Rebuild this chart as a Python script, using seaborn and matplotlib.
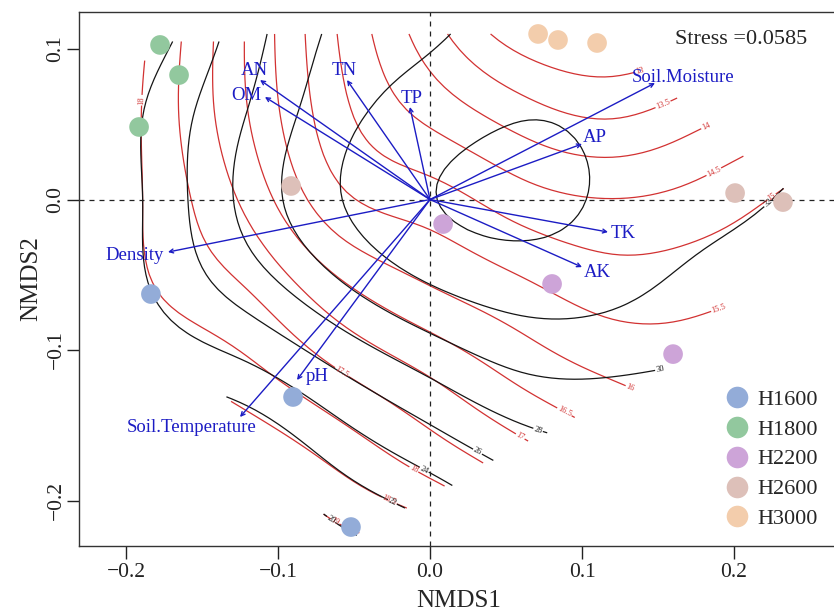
import numpy as np
import pandas as pd
import matplotlib
matplotlib.use("Agg")
import matplotlib.pyplot as plt
from matplotlib.path import Path
import seaborn as sns

# NMDS site scores
groups = ['H1600'] * 3 + ['H1800'] * 3 + ['H2200'] * 3 + ['H2600'] * 3 + ['H3000'] * 3
nmds1 = [-0.1836, -0.0901, -0.0520,
         -0.1914, -0.1776, -0.1651,
         0.0086, 0.0803, 0.1599,
         -0.0914, 0.2007, 0.2322,
         0.0711, 0.0842, 0.1099]
nmds2 = [-0.0628, -0.1312, -0.2176,
         0.0482, 0.1027, 0.0827,
         -0.0163, -0.0561, -0.1027,
         0.0090, 0.0043, -0.0017,
         0.1100, 0.1060, 0.1040]
group_colors = {'H1600': '#93acd8', 'H1800': '#92c89e', 'H2200': '#cda4d8',
                'H2600': '#ddc0b9', 'H3000': '#f3cdac'}

# envfit vectors
env_names = ['Soil.Moisture', 'AP', 'TK', 'AK', 'TP', 'TN', 'AN', 'OM',
             'Density', 'pH', 'Soil.Temperature']
env_x = [0.148, 0.100, 0.1171, 0.100, -0.0132, -0.0546, -0.1118, -0.1086,
         -0.1724, -0.0875, -0.125]
env_y = [0.0774, 0.0369, -0.0216, -0.0449, 0.0615, 0.0794, 0.0794, 0.0681,
         -0.0349, -0.1199, -0.1445]
label_x = [0.1664, 0.1086, 0.127, 0.1099, -0.0118, -0.0566, -0.1158, -0.121,
           -0.194, -0.0743, -0.1566]
label_y = [0.0814, 0.0409, -0.0223, -0.0488, 0.0674, 0.0854, 0.0854, 0.0694,
           -0.0369, -0.1173, -0.1512]

# ordisurf surfaces read on a coarse grid (rows: grid_y, cols: grid_x)
grid_x = [-0.24, -0.18, -0.12, -0.06, 0.00, 0.06, 0.12, 0.18, 0.24, 0.30]
grid_y = [-0.24, -0.18, -0.12, -0.06, 0.00, 0.06, 0.12]
temp_grid = [
    [21.0, 20.4, 19.9, 19.35, 19.1, 18.2, 17.5, 16.8, 17.0, 17.3],
    [20.3, 19.6, 19.1, 18.49, 17.91, 17.34, 16.75, 16.3, 16.6, 16.9],
    [19.5, 18.75, 18.2, 17.6, 17.03, 16.43, 16.0, 15.87, 16.2, 16.5],
    [19.1, 18.0, 17.5, 16.64, 16.04, 15.62, 15.27, 15.35, 15.6, 16.0],
    [18.95, 17.85, 16.87, 15.63, 15.23, 14.73, 14.51, 14.7, 15.14, 15.6],
    [19.0, 17.8, 16.5, 15.14, 14.32, 13.68, 13.38, 13.79, 14.28, 14.9],
    [19.05, 17.9, 16.45, 14.95, 13.62, 12.55, 12.4, 12.6, 13.3, 13.9],
]
moist_grid = [
    [13.0, 15.0, 16.5, 18.7, 20.3, 23.0, 24.5, 24.5, 25.0, 25.0],
    [15.5, 17.0, 19.2, 22.0, 24.1, 26.2, 27.3, 27.2, 27.5, 27.5],
    [18.0, 21.4, 23.2, 25.6, 27.9, 29.7, 29.9, 29.6, 29.5, 29.0],
    [20.5, 24.2, 26.8, 29.6, 31.8, 32.8, 32.5, 31.3, 30.8, 30.3],
    [20.7, 24.6, 28.6, 31.9, 33.9, 34.5, 33.7, 32.7, 31.8, 31.2],
    [20.6, 24.5, 28.0, 31.3, 32.9, 33.85, 33.6, 33.1, 32.4, 31.9],
    [19.5, 22.8, 27.0, 30.3, 31.5, 32.8, 33.2, 33.0, 32.6, 32.3],
]
temp_levels = np.arange(12, 19.5, 0.5)
moist_levels = np.arange(20, 36, 2)

# where the contour labels sit
temp_label_pos = [(0.138, 0.086), (0.153, 0.064), (0.182, 0.048), (0.186, 0.02),
                  (0.222, 0.006), (0.199, -0.067), (0.132, -0.127), (0.0875, -0.143),
                  (0.058, -0.16), (-0.057, -0.113), (-0.011, -0.18), (-0.028, -0.203),
                  (-0.0625, -0.214), (-0.19, 0.066)]
moist_label_pos = [(0.222, -0.002), (0.151, -0.111), (0.072, -0.15), (0.03, -0.17),
                   (-0.005, -0.182), (-0.026, -0.204), (-0.066, -0.214)]

df = pd.DataFrame({'NMDS1': nmds1, 'NMDS2': nmds2, 'group': groups})


def convex_hull(pts):
    pts = sorted(map(tuple, pts))

    def cross(o, a, b):
        return (a[0] - o[0]) * (b[1] - o[1]) - (a[1] - o[1]) * (b[0] - o[0])
    lower, upper = [], []
    for p in pts:
        while len(lower) >= 2 and cross(lower[-2], lower[-1], p) <= 0:
            lower.pop()
        lower.append(p)
    for p in reversed(pts):
        while len(upper) >= 2 and cross(upper[-2], upper[-1], p) <= 0:
            upper.pop()
        upper.append(p)
    return np.array(lower[:-1] + upper[:-1])


def spline_weights(nodes, xs):
    # natural cubic spline as a linear map from node values to values at xs
    nodes = np.asarray(nodes)
    n = len(nodes)
    h = np.diff(nodes)
    A = np.zeros((n, n))
    B = np.zeros((n, n))
    A[0, 0] = A[-1, -1] = 1
    for i in range(1, n - 1):
        A[i, i - 1], A[i, i], A[i, i + 1] = h[i - 1], 2 * (h[i - 1] + h[i]), h[i]
        B[i, i - 1], B[i, i], B[i, i + 1] = 6 / h[i - 1], -6 / h[i - 1] - 6 / h[i], 6 / h[i]
    M = np.linalg.solve(A, B)
    W = np.zeros((len(xs), n))
    for k, x in enumerate(xs):
        i = int(np.clip(np.searchsorted(nodes, x) - 1, 0, n - 2))
        hi = nodes[i + 1] - nodes[i]
        a = (nodes[i + 1] - x) / hi
        b = (x - nodes[i]) / hi
        W[k, i] += a
        W[k, i + 1] += b
        W[k] += ((a ** 3 - a) * M[i] + (b ** 3 - b) * M[i + 1]) * hi ** 2 / 6
    return W


sns.set_theme(style="white")
plt.rcParams['font.family'] = ['Liberation Serif', 'DejaVu Serif']
plt.rcParams['axes.unicode_minus'] = True

fig = plt.figure(figsize=(8.34, 6.15), dpi=100)
ax = fig.add_axes([0.0953, 0.1122, 0.9095, 0.8683])

# fitted surface only inside (slightly grown) convex hull of sites
pts = np.column_stack([nmds1, nmds2])
hull = convex_hull(pts)
centre = pts.mean(axis=0)
hull = centre + (hull - centre) * 1.05
xs = np.linspace(-0.22, 0.26, 97)
ys = np.linspace(-0.235, 0.125, 73)
fx, fy = np.meshgrid(xs, ys)
inside = Path(hull).contains_points(np.column_stack([fx.ravel(), fy.ravel()])).reshape(fx.shape)
Wx = spline_weights(grid_x, xs)
Wy = spline_weights(grid_y, ys)
temp_fit = np.ma.masked_where(~inside, Wy @ np.array(temp_grid) @ Wx.T)
moist_fit = np.ma.masked_where(~inside, Wy @ np.array(moist_grid) @ Wx.T)

cs_t = ax.contour(fx, fy, temp_fit, levels=temp_levels, colors='#d23232', linewidths=0.9)
ax.clabel(cs_t, fmt='%g', fontsize=6, inline=True, inline_spacing=1, manual=temp_label_pos)
cs_m = ax.contour(fx, fy, moist_fit, levels=moist_levels, colors='#151515', linewidths=0.9)
ax.clabel(cs_m, fmt='%g', fontsize=6, inline=True, inline_spacing=1, manual=moist_label_pos)

ax.axhline(0, color='#222222', lw=0.9, ls=(0, (4, 4)), zorder=2)
ax.axvline(0, color='#222222', lw=0.9, ls=(0, (4, 4)), zorder=2)

arrow_col = '#1c1cc4'
for name, vx, vy, tx, ty in zip(env_names, env_x, env_y, label_x, label_y):
    ax.annotate('', xy=(vx, vy), xytext=(0, 0),
                arrowprops=dict(arrowstyle='->', color=arrow_col, lw=1.0,
                                shrinkA=0, shrinkB=0, mutation_scale=7), zorder=3)
    ax.text(tx, ty, name, color=arrow_col, fontsize=13.5, ha='center', va='center', zorder=4)

sns.scatterplot(data=df, x='NMDS1', y='NMDS2', hue='group', palette=group_colors,
                s=200, edgecolor='none', linewidth=0, ax=ax, zorder=5)
sns.move_legend(ax, 'upper left', bbox_to_anchor=(0.8375, 0.3146), frameon=False,
                title=None, fontsize=16, labelspacing=0.42, handletextpad=0.4,
                handlelength=1.0, borderpad=0, markerscale=1.1)

ax.text(0.2046, 0.106, 'Stress =0.0585', fontsize=16, ha='center', va='center')

ax.set_xlim(-0.2306, 0.2684)
ax.set_ylim(-0.2302, 0.1246)
ax.set_xticks([-0.2, -0.1, 0.0, 0.1, 0.2])
ax.set_yticks([-0.2, -0.1, 0.0, 0.1])
ax.set_xticklabels(['\u22120.2', '\u22120.1', '0.0', '0.1', '0.2'])
ax.set_yticklabels(['\u22120.2', '\u22120.1', '0.0', '0.1'], rotation=90, va='center')
ax.tick_params(direction='out', length=9, width=1, labelsize=15.5,
               colors='#222222', left=True, bottom=True)
ax.tick_params(axis='x', pad=3)
ax.tick_params(axis='y', pad=1)
ax.set_xlabel('NMDS1', fontsize=18, labelpad=6)
ax.set_ylabel('NMDS2', fontsize=18, labelpad=3)
for sp in ax.spines.values():
    sp.set_color('#333333')
    sp.set_linewidth(1.0)

fig.savefig('out.png', dpi=100)
